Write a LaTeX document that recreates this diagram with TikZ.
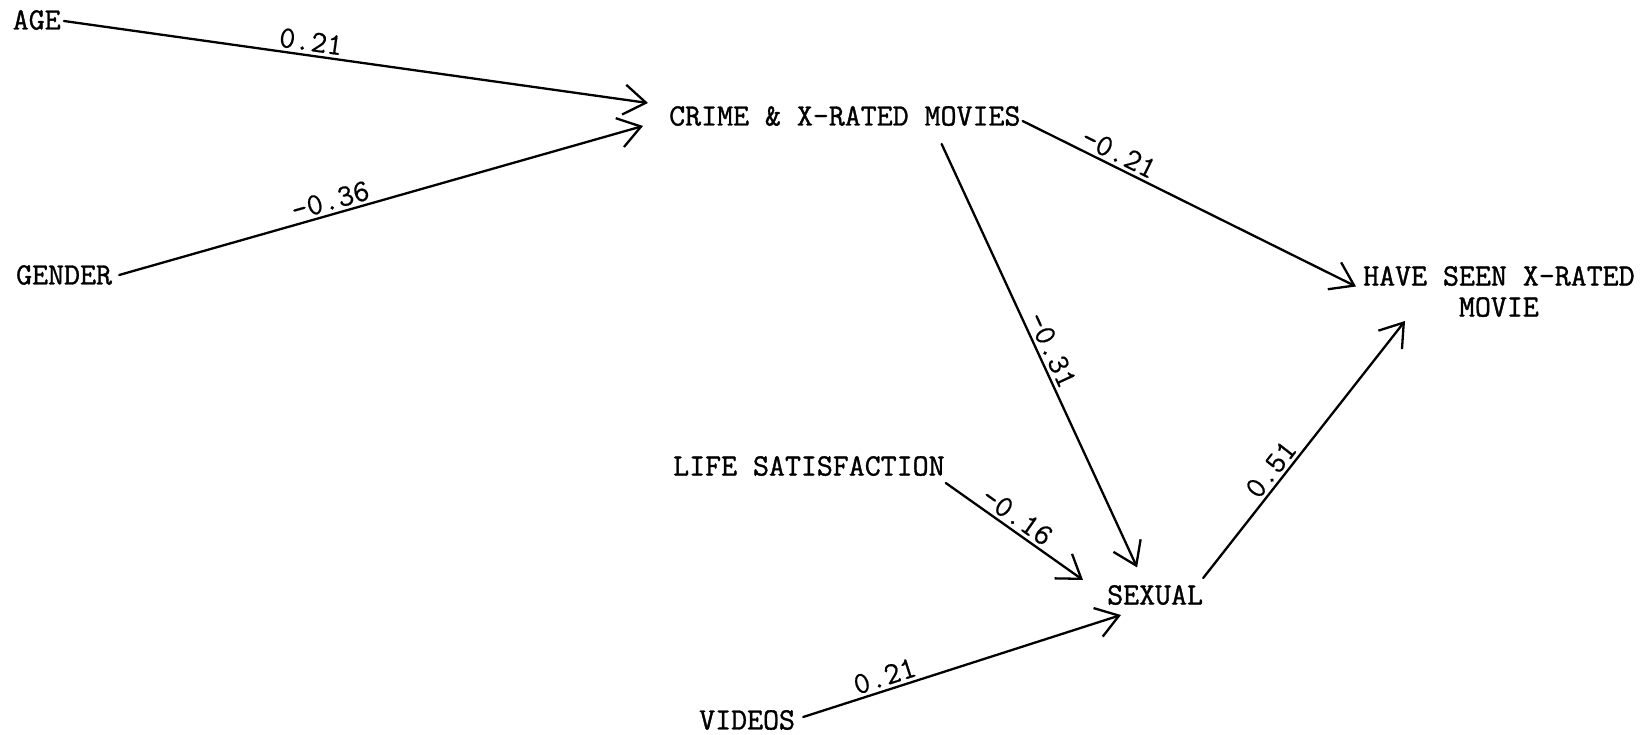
\documentclass[tikz,border=0pt]{standalone}
\usepackage{fontspec}
\usetikzlibrary{arrows.meta}
% heavy typewriter face for the variables, lighter one for the coefficients
\newfontfamily\vartype{Latin Modern Mono}[FakeBold=1.2]
\newfontfamily\coeftype{Latin Modern Mono}[FakeBold=0.5]
\begin{document}
\begin{tikzpicture}[x=1pt,y=-1pt,
  var/.style={font=\fontsize{31}{31}\selectfont\vartype, inner sep=0pt},
  coef/.style={font=\fontsize{31}{31}\selectfont\coeftype, inner sep=3pt, sloped, above},
  effect/.style={line width=2.3pt, line cap=round,
    -{Straight Barb[length=22pt,width=30pt,line width=2.3pt]}},
]
\useasboundingbox (0,0) rectangle (1648,735);

% variables
\node[var, anchor=west] (age)    at (12.6,20)  {AGE};
\node[var, anchor=west] (gender) at (16,275)   {GENDER};
\node[var, anchor=west] (crime)  at (669,116)  {CRIME \& X-RATED MOVIES};
\node[var, anchor=west, align=center] (have) at (1363,291.5) {HAVE SEEN X-RATED\\MOVIE};
\node[var, anchor=west] (life)   at (673,466)  {LIFE SATISFACTION};
\node[var, anchor=west] (sexual) at (1107,595) {SEXUAL};
\node[var, anchor=west] (videos) at (699,720)  {VIDEOS};

% path coefficients
\draw[effect] ([shift={(3,1)}]age.east) -- ([shift={(-21,-13)}]crime.west)
  node[coef, pos=0.42] {0.21};
\draw[effect] ([shift={(7,0)}]gender.east) -- ([shift={(-26,10)}]crime.west)
  node[coef, pos=0.41] {-0.36};
\draw[effect] ([shift={(2,5)}]crime.east) -- ([shift={(-7,-5)}]have.west)
  node[coef, pos=0.27] {-0.21};
\draw[effect] ([shift={(-79,28)}]crime.east) -- ([shift={(-18,-17.5)}]sexual.north)
  node[coef, pos=0.5] {-0.31};
\draw[effect] ([shift={(1,17)}]life.east) -- ([shift={(-24,-15)}]sexual.west)
  node[coef, pos=0.46] {-0.16};
\draw[effect] ([shift={(0,-17)}]sexual.east) -- ([shift={(42,29.5)}]have.west)
  node[coef, pos=0.39] {0.51};
\draw[effect] ([shift={(8,-3)}]videos.east) -- ([shift={(14,20)}]sexual.west)
  node[coef, pos=0.27] {0.21};
\end{tikzpicture}
\end{document}
